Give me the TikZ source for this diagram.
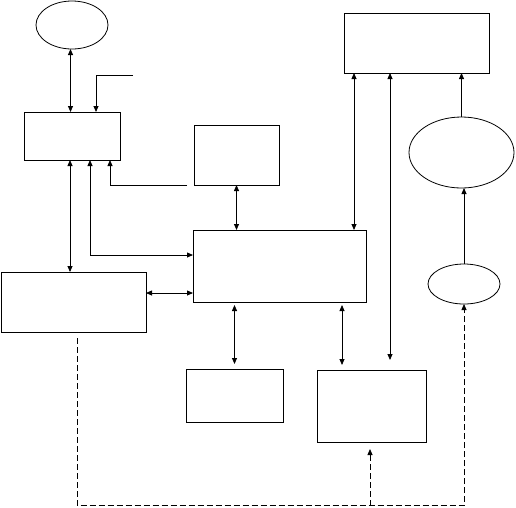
\documentclass[tikz,border=0pt]{standalone}
\usepackage{tikz}
\usetikzlibrary{shapes,arrows.meta,calc}

\begin{document}
\begin{tikzpicture}[
    x=1pt, y=-1pt, line width=0.8pt,
    >={Triangle[length=6pt,width=5pt]},
    blk/.style={draw, rectangle, inner sep=0pt, outer sep=0pt},
    oval/.style={draw, ellipse, inner sep=0pt, outer sep=0pt},
    fb/.style={dash pattern=on 6pt off 3pt}
]
    \useasboundingbox (0,0) rectangle (516,507);

    % Blocks
    \node [oval, minimum width=72pt, minimum height=48pt] (src) at (72,25) {};
    \node [blk, minimum width=96pt, minimum height=48pt] (ctrl) at (72,136) {};
    \node [blk, minimum width=85pt, minimum height=60pt] (aux) at (236.5,155) {};
    \node [blk, minimum width=173pt, minimum height=72pt] (core) at (279.5,266) {};
    \node [blk, minimum width=145pt, minimum height=60pt] (out) at (416.5,43) {};
    \node [oval, minimum width=105pt, minimum height=71pt] (meas) at (461.5,152.5) {};
    \node [oval, minimum width=72pt, minimum height=40pt] (sens) at (464,284) {};
    \node [blk, minimum width=145pt, minimum height=60pt] (plant) at (73.5,302) {};
    \node [blk, minimum width=97pt, minimum height=53pt] (store) at (234.5,395.5) {};
    \node [blk, minimum width=109pt, minimum height=72pt] (sink) at (371.5,406) {};
    \coordinate (in) at (133,75);
    \coordinate (bus) at (370,505.5);

    % Connectors
    \draw [<->] ([xshift=-1.5pt]src.south) -- ([xshift=-1.5pt]ctrl.north);
    \draw [->] (in) -| ([xshift=24pt]ctrl.north);
    \draw [->] ([xshift=-7pt]aux.south west) -| ([xshift=38pt]ctrl.south);
    \draw [<->] ([xshift=18pt]ctrl.south) |- ([yshift=11pt]core.west);
    \draw [<->] ([xshift=-2pt]ctrl.south) -- ([xshift=-2pt]ctrl.south |- plant.north);
    \draw [<->] ([yshift=9pt]plant.east) -- ([yshift=9pt]plant.east -| core.west);
    \draw [<->] (aux.south) -- (aux.south |- core.north);
    \draw [<->] ([xshift=-12pt]core.north east) -- ([xshift=-12pt]core.north east |- out.south);
    \draw [<->, shorten >=10pt] ([xshift=-26.5pt]out.south) -- ([xshift=-26.5pt]out.south |- sink.north);
    \draw [->] (meas.north) -- (meas.north |- out.south);
    \draw [->] (sens.north) -- (sens.north |- meas.south);
    \draw [<->, shorten <=3pt, shorten >=5pt] (store.north |- core.south) -- (store.north);
    \draw [<->, shorten <=3pt, shorten >=5pt] ([xshift=-29.5pt]sink.north |- core.south) -- ([xshift=-29.5pt]sink.north);

    % Feedback
    \draw [fb, ->] ([xshift=3.5pt,yshift=-6pt]plant.south) |- (bus) -| (sens.south);
    \draw [fb, ->, shorten >=7pt] (bus) -- (bus |- sink.south);
\end{tikzpicture}
\end{document}
